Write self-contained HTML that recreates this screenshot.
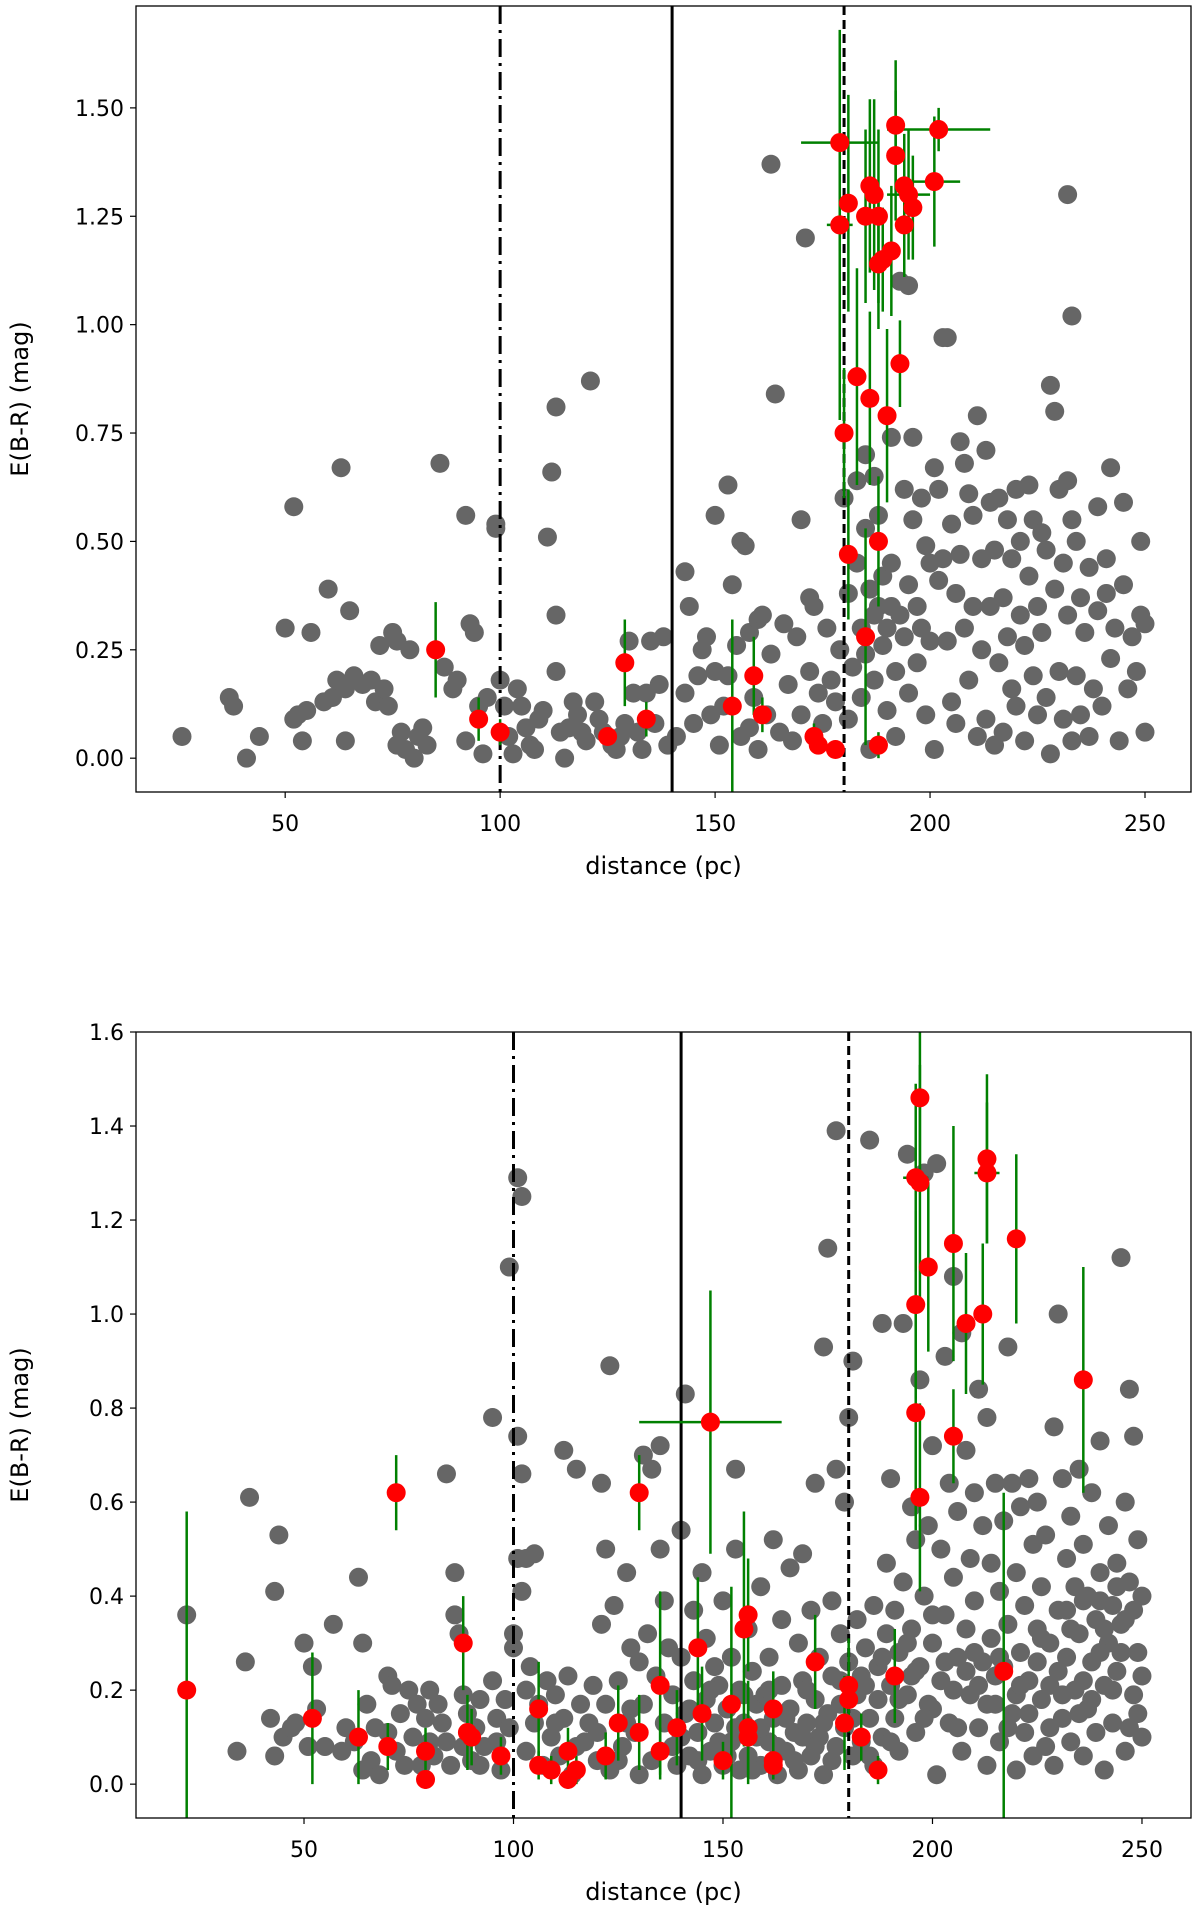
<!DOCTYPE html>
<html><head><meta charset="utf-8"><style>
body{margin:0;background:#fff;}
svg{display:block;font-family:"DejaVu Sans","Liberation Sans",sans-serif;}
</style></head><body>
<svg id="fig" width="1200" height="1921" viewBox="0 0 1200 1921" xmlns="http://www.w3.org/2000/svg"></svg>
<script>
// ---------- data: top panel ----------
const topGrayX=[26,37,38,41,44,50,52,52,53,54,55,56,59,60,61,62,63,64,64,65,66,68,70,71,72,73,74,75,76,76,77,78,79,80,81,82,83,86,87,89,90,92,92,93,94,95,96,97,99,99,100,101,102,103,104,105,106,107,108,109,110,111,112,113,113,113,114,115,116,117,118,119,120,121,122,123,124,126,127,128,129,130,131,132,133,134,135,136,137,138,139,141,143,143,144,145,146,147,148,149,150,150,151,152,153,153,154,155,156,156,157,158,158,159,160,160,161,162,163,163,164,165,166,167,168,169,170,170,171,172,172,173,174,175,176,177,178,179,180,181,181,182,183,183,184,184,185,185,185,186,186,187,187,187,188,188,189,189,190,190,191,191,191,192,192,193,193,194,194,195,195,195,196,196,197,197,198,198,199,199,200,200,201,201,202,202,203,203,204,204,205,205,206,206,207,207,208,208,209,209,210,210,211,211,212,212,213,213,214,214,215,215,216,216,217,217,218,218,219,219,220,220,221,221,222,222,223,223,224,224,225,225,226,226,227,227,228,228,229,229,230,230,231,231,232,232,232,233,233,233,234,234,235,235,236,237,237,238,239,239,240,241,241,242,242,243,244,245,245,246,247,248,249,249,250,250];
const topGrayY=[0.05,0.14,0.12,0.0,0.05,0.30,0.58,0.09,0.10,0.04,0.11,0.29,0.13,0.39,0.14,0.18,0.67,0.16,0.04,0.34,0.19,0.17,0.18,0.13,0.26,0.16,0.12,0.29,0.27,0.03,0.06,0.02,0.25,0.00,0.05,0.07,0.03,0.68,0.21,0.16,0.18,0.56,0.04,0.31,0.29,0.12,0.01,0.14,0.54,0.53,0.18,0.12,0.05,0.01,0.16,0.12,0.07,0.03,0.02,0.09,0.11,0.51,0.66,0.81,0.20,0.33,0.06,0.00,0.07,0.13,0.10,0.06,0.04,0.87,0.13,0.09,0.06,0.03,0.02,0.05,0.08,0.27,0.15,0.06,0.02,0.15,0.27,0.08,0.17,0.28,0.03,0.05,0.43,0.15,0.35,0.08,0.19,0.25,0.28,0.10,0.56,0.20,0.03,0.12,0.63,0.19,0.40,0.26,0.50,0.05,0.49,0.07,0.29,0.14,0.32,0.02,0.33,0.10,1.37,0.24,0.84,0.06,0.31,0.17,0.04,0.28,0.55,0.10,1.20,0.37,0.20,0.35,0.15,0.08,0.30,0.18,0.13,0.25,0.60,0.38,0.09,0.21,0.64,0.45,0.30,0.14,0.70,0.53,0.24,0.39,0.02,0.65,0.33,0.18,0.35,0.56,0.42,0.26,0.30,0.11,0.74,0.45,0.35,0.20,0.05,1.10,0.33,0.62,0.28,1.09,0.40,0.15,0.74,0.55,0.35,0.22,0.60,0.30,0.49,0.10,0.45,0.27,0.67,0.02,0.62,0.41,0.97,0.46,0.97,0.27,0.54,0.13,0.38,0.08,0.73,0.47,0.68,0.30,0.61,0.18,0.56,0.35,0.79,0.05,0.46,0.25,0.71,0.09,0.59,0.35,0.48,0.03,0.60,0.22,0.37,0.06,0.55,0.28,0.46,0.16,0.62,0.12,0.50,0.33,0.26,0.04,0.63,0.42,0.55,0.19,0.35,0.10,0.52,0.29,0.48,0.14,0.86,0.01,0.80,0.39,0.62,0.20,0.45,0.09,1.30,0.64,0.33,1.02,0.55,0.04,0.50,0.19,0.37,0.10,0.29,0.44,0.05,0.16,0.58,0.34,0.12,0.38,0.46,0.67,0.23,0.30,0.04,0.59,0.40,0.16,0.28,0.20,0.33,0.50,0.06,0.31];
const topRedX=[85,95,100,125,129,134,154,159,161,173,174,178,179,179,180,181,181,183,185,185,186,186,187,188,188,188,188,189,190,191,192,192,193,194,194,195,196,201,202];
const topRedY=[0.25,0.09,0.06,0.05,0.22,0.09,0.12,0.19,0.10,0.05,0.03,0.02,1.42,1.23,0.75,1.28,0.47,0.88,1.25,0.28,0.83,1.32,1.30,1.25,1.14,0.50,0.03,1.15,0.79,1.17,1.39,1.46,0.91,1.23,1.32,1.30,1.27,1.33,1.45];
const topErrX=[0,0,0,0,0,0,0,0,0,0,0,0,9,3,0,0,0,0,0,0,0,0,0,0,0,0,0,0,0,0,0,0,0,0,0,5,0,6,12];
const topErrY=[0.11,0.05,0.03,0.02,0.10,0.04,0.20,0.09,0.04,0.03,0.02,0.02,0.25,0.45,0.15,0.25,0.15,0.25,0.20,0.25,0.20,0.20,0.22,0.20,0.15,0.15,0.03,0.12,0.20,0.15,0.15,0.15,0.10,0.12,0.12,0.15,0.12,0.15,0.05];
// ---------- data: bottom panel ----------
const botGray=[[22,0.36],[34,0.07],[36,0.26],[37,0.61],[42,0.14],[43,0.41],[43,0.06],[44,0.53],[45,0.10],[47,0.12],[48,0.13],[50,0.30],[51,0.08],[52,0.25],[53,0.16],[55,0.08],[57,0.34],[59,0.07],[62,0.09],[63,0.44],[64,0.30],[64,0.03],[65,0.17],[66,0.05],[67,0.12],[68,0.02],[70,0.23],[70,0.11],[71,0.21],[72,0.07],[73,0.15],[74,0.04],[75,0.20],[76,0.10],[77,0.17],[78,0.04],[79,0.14],[80,0.20],[80,0.09],[81,0.06],[82,0.17],[83,0.13],[84,0.66],[85,0.04],[86,0.36],[86,0.45],[87,0.32],[88,0.19],[88,0.08],[89,0.15],[90,0.05],[91,0.12],[92,0.18],[93,0.08],[95,0.22],[95,0.78],[96,0.14],[97,0.03],[98,0.18],[99,1.10],[99,0.12],[100,0.32],[100,0.29],[101,1.29],[101,0.74],[101,0.48],[102,1.25],[102,0.41],[102,0.66],[103,0.48],[103,0.20],[103,0.07],[104,0.25],[105,0.49],[105,0.13],[106,0.17],[107,0.04],[108,0.22],[109,0.10],[110,0.19],[111,0.06],[112,0.71],[112,0.14],[113,0.23],[114,0.02],[115,0.67],[116,0.17],[117,0.09],[118,0.13],[119,0.21],[120,0.05],[121,0.64],[121,0.34],[122,0.50],[122,0.17],[123,0.89],[123,0.03],[124,0.38],[125,0.22],[126,0.08],[127,0.45],[128,0.16],[128,0.29],[129,0.11],[130,0.26],[130,0.02],[131,0.70],[131,0.17],[132,0.32],[133,0.05],[133,0.67],[134,0.23],[135,0.72],[135,0.50],[136,0.13],[136,0.39],[137,0.29],[138,0.08],[138,0.19],[139,0.04],[140,0.54],[140,0.27],[141,0.83],[141,0.15],[142,0.06],[143,0.22],[143,0.37],[144,0.11],[145,0.45],[145,0.02],[146,0.31],[146,0.18],[147,0.07],[148,0.25],[148,0.13],[149,0.21],[150,0.04],[150,0.39],[151,0.16],[152,0.27],[152,0.09],[153,0.67],[153,0.50],[154,0.20],[154,0.03],[155,0.13],[156,0.33],[156,0.06],[157,0.24],[158,0.10],[158,0.17],[159,0.42],[159,0.04],[160,0.19],[161,0.09],[161,0.27],[162,0.52],[162,0.14],[163,0.02],[164,0.35],[164,0.21],[165,0.07],[166,0.46],[166,0.16],[167,0.11],[168,0.30],[168,0.03],[169,0.49],[169,0.22],[170,0.13],[171,0.37],[171,0.06],[172,0.64],[172,0.18],[173,0.27],[173,0.10],[174,0.93],[174,0.02],[175,1.14],[175,0.15],[176,0.39],[176,0.23],[177,1.39],[177,0.67],[177,0.08],[178,0.32],[178,0.17],[179,0.60],[179,0.12],[180,0.78],[180,0.26],[181,0.90],[181,0.06],[182,0.35],[182,0.19],[183,0.23],[183,0.09],[184,0.29],[185,1.37],[185,0.14],[186,0.38],[186,0.04],[187,0.25],[187,0.18],[188,0.98],[188,0.10],[189,0.32],[189,0.47],[190,0.21],[190,0.65],[191,0.14],[191,0.37],[192,0.28],[192,0.07],[193,0.98],[193,0.43],[194,1.34],[194,0.19],[195,0.59],[195,0.33],[196,0.52],[196,0.11],[197,0.86],[197,0.25],[198,1.30],[198,0.40],[199,0.55],[199,0.17],[200,0.72],[200,0.30],[201,1.32],[201,0.02],[202,0.50],[202,0.22],[203,0.91],[203,0.36],[204,0.64],[204,0.13],[205,1.08],[205,0.44],[206,0.58],[206,0.27],[207,0.96],[207,0.07],[208,0.71],[208,0.33],[209,0.48],[209,0.19],[210,0.62],[210,0.39],[211,0.84],[211,0.12],[212,0.55],[212,0.26],[213,0.78],[213,0.04],[214,0.47],[214,0.31],[215,0.64],[215,0.17],[216,0.41],[216,0.09],[217,0.56],[217,0.25],[218,0.93],[218,0.34],[219,0.64],[219,0.15],[220,0.45],[220,0.03],[221,0.59],[221,0.28],[222,0.38],[222,0.11],[223,0.65],[223,0.22],[224,0.51],[224,0.06],[225,0.60],[225,0.33],[226,0.42],[226,0.18],[227,0.53],[227,0.08],[228,0.30],[228,0.21],[229,0.76],[229,0.04],[230,1.00],[230,0.37],[231,0.65],[231,0.14],[232,0.48],[232,0.27],[233,0.57],[233,0.09],[234,0.42],[234,0.20],[235,0.67],[235,0.32],[236,0.51],[236,0.06],[237,0.40],[237,0.16],[238,0.62],[238,0.26],[239,0.35],[239,0.11],[240,0.73],[240,0.45],[241,0.21],[241,0.03],[242,0.55],[242,0.30],[243,0.38],[243,0.13],[244,0.47],[244,0.24],[245,1.12],[245,0.34],[246,0.60],[246,0.07],[247,0.84],[247,0.43],[248,0.74],[248,0.19],[249,0.52],[249,0.28],[250,0.40],[250,0.10],[250,0.23],[249,0.15],[246,0.35],[240,0.28],[235,0.15],[230,0.24],[225,0.26],[220,0.19],[215,0.23],[210,0.28],[205,0.20],[200,0.16],[195,0.23],
[140,0.10],[142,0.16],[144,0.05],[147,0.20],[149,0.09],[151,0.06],[153,0.12],[155,0.19],[157,0.03],[159,0.12],[161,0.20],[163,0.08],[165,0.14],[167,0.05],[169,0.10],[170,0.20],[172,0.08],[174,0.13],[176,0.05],[178,0.22],[181,0.14],[184,0.21],[185,0.06],[188,0.27],[190,0.09],[192,0.18],[194,0.30],[196,0.24],[198,0.14],[200,0.36],[203,0.26],[206,0.12],[208,0.24],[211,0.21],[213,0.17],[216,0.27],[218,0.12],[221,0.21],[223,0.15],[226,0.31],[228,0.12],[231,0.19],[233,0.33],[236,0.22],[238,0.18],[241,0.33],[243,0.20],[245,0.28],[247,0.12],[248,0.37],[120,0.11],[125,0.05],[127,0.13],[115,0.08],[110,0.13],[96,0.09],[92,0.04],[84,0.09],[60,0.12],[240,0.39],[244,0.42],[236,0.39],[232,0.37]];
const botRed=[[22,0.20,0,0.38],[52,0.14,0,0.14],[63,0.10,0,0.10],[70,0.08,0,0.05],[72,0.62,0,0.08],[79,0.07,0,0.05],[79,0.01,0,0.02],[88,0.30,0,0.10],[89,0.11,0,0.08],[90,0.10,0,0.06],[97,0.06,0,0.04],[106,0.16,0,0.10],[106,0.04,0,0.03],[109,0.03,0,0.03],[113,0.07,0,0.05],[113,0.01,0,0.02],[115,0.03,0,0.03],[122,0.06,0,0.05],[125,0.13,0,0.08],[130,0.62,0,0.08],[130,0.11,0,0.08],[135,0.21,0,0.20],[135,0.07,0,0.05],[139,0.12,0,0.08],[144,0.29,0,0.15],[147,0.77,17,0.28],[145,0.15,0,0.10],[150,0.05,0,0.04],[152,0.17,0,0.25],[155,0.33,0,0.25],[156,0.36,0,0.12],[156,0.12,0,0.10],[156,0.10,0,0.10],[162,0.16,0,0.08],[162,0.05,0,0.04],[162,0.04,0,0.03],[172,0.26,0,0.10],[179,0.13,0,0.10],[180,0.21,0,0.10],[180,0.18,0,0.05],[183,0.10,0,0.05],[187,0.03,0,0.03],[191,0.23,0,0.10],[196,1.29,3,0.20],[196,1.02,0,0.20],[196,0.79,0,0.25],[197,1.46,0,0.18],[197,1.28,0,0.25],[197,0.61,0,0.20],[199,1.10,0,0.18],[205,1.15,0,0.25],[205,0.74,0,0.10],[208,0.98,0,0.15],[212,1.00,0,0.15],[213,1.33,0,0.18],[213,1.30,3,0.15],[220,1.16,0,0.18],[217,0.24,0,0.38],[236,0.86,2,0.24]];
const topXTicks=[50,100,150,200,250];
const topYTicks=[0,0.25,0.5,0.75,1.0,1.25,1.5];
const botXTicks=[50,100,150,200,250];
const botYTicks=[0,0.2,0.4,0.6,0.8,1.0,1.2,1.4,1.6];
const vlineX=[100,140,180];

const NS="http://www.w3.org/2000/svg";
const svg=document.getElementById('fig');
function mk(tag,attrs,parent){const e=document.createElementNS(NS,tag);for(const k in attrs)e.setAttribute(k,attrs[k]);(parent||svg).appendChild(e);return e;}

function panel(cfg){
  const g=mk('g',{});
  
  
  const sx=v=>cfg.L+(v-cfg.x0)/(cfg.x1-cfg.x0)*(cfg.R-cfg.L);
  const sy=v=>cfg.B-(v-cfg.y0)/(cfg.y1-cfg.y0)*(cfg.B-cfg.T);
  const clipId='clip'+cfg.name;
  const cp=mk('clipPath',{id:clipId},g);mk('rect',{x:cfg.L,y:cfg.T,width:cfg.R-cfg.L,height:cfg.B-cfg.T},cp);
  const plot=mk('g',{'clip-path':'url(#'+clipId+')'},g);
  cfg.gray.forEach(p=>{const c=mk('circle',{cx:sx(p[0]),cy:sy(p[1]),r:9.5,fill:'#666666'},plot);
    
    });
  const styles=['18,6,3,6','none','9,5'];
  vlineX.forEach((v,i)=>{const l=mk('line',{x1:sx(v),x2:sx(v),y1:cfg.T,y2:cfg.B,stroke:'#000','stroke-width':3,'stroke-dasharray':styles[i]},plot);
    
    });
  cfg.red.forEach(p=>{
    const e=mk('line',{x1:sx(p[0]),x2:sx(p[0]),y1:sy(p[1]-p[3]),y2:sy(p[1]+p[3]),stroke:'#008000','stroke-width':2.5},plot);
    
    
    if(p[2]>0){const h=mk('line',{x1:sx(p[0]-p[2]),x2:sx(p[0]+p[2]),y1:sy(p[1]),y2:sy(p[1]),stroke:'#008000','stroke-width':2.5},plot);
      
      }
  });
  cfg.red.forEach(p=>{const c=mk('circle',{cx:sx(p[0]),cy:sy(p[1]),r:9.5,fill:'#ff0000'},plot);
    
    });
  const fr=mk('rect',{x:cfg.L,y:cfg.T,width:cfg.R-cfg.L,height:cfg.B-cfg.T,fill:'none',stroke:'#000','stroke-width':1.3},g);
  
  
  cfg.xt.forEach(v=>{const x=sx(v);mk('line',{x1:x,x2:x,y1:cfg.B,y2:cfg.B+6,stroke:'#000','stroke-width':1.2},g);
    const t=mk('text',{x:x,y:cfg.B+39,'font-size':22,'text-anchor':'middle',fill:'#000'},g);t.textContent=v;
    
    });
  cfg.yt.forEach(v=>{const y=sy(v);mk('line',{x1:cfg.L-6,x2:cfg.L,y1:y,y2:y,stroke:'#000','stroke-width':1.2},g);
    const t=mk('text',{x:cfg.L-12,y:y+8,'font-size':22,'text-anchor':'end',fill:'#000'},g);t.textContent=v.toFixed(cfg.dec);
    
    });
  const xl=mk('text',{x:(cfg.L+cfg.R)/2,y:cfg.B+82,'font-size':24,'text-anchor':'middle'},g);xl.textContent='distance (pc)';
  
  
  const cy=(cfg.T+cfg.B)/2;
  const yl=mk('text',{x:0,y:0,'font-size':24,'text-anchor':'middle',transform:'translate(28,'+cy+') rotate(-90)'},g);yl.textContent='E(B-R) (mag)';
  
  
}
const topGray=topGrayX.map((x,i)=>[x,topGrayY[i]]);
const topRed=topRedX.map((x,i)=>[x,topRedY[i],topErrX[i],topErrY[i]]);
panel({name:'top-panel',L:136,R:1191,T:6,B:792,x0:15.3,x1:260.7,y0:-0.078,y1:1.735,gray:topGray,red:topRed,xt:topXTicks,yt:topYTicks,dec:2});
panel({name:'bottom-panel',L:136,R:1191,T:1032,B:1818,x0:9.9,x1:261.7,y0:-0.072,y1:1.6,gray:botGray,red:botRed,xt:botXTicks,yt:botYTicks,dec:1});
</script>
</body></html>
